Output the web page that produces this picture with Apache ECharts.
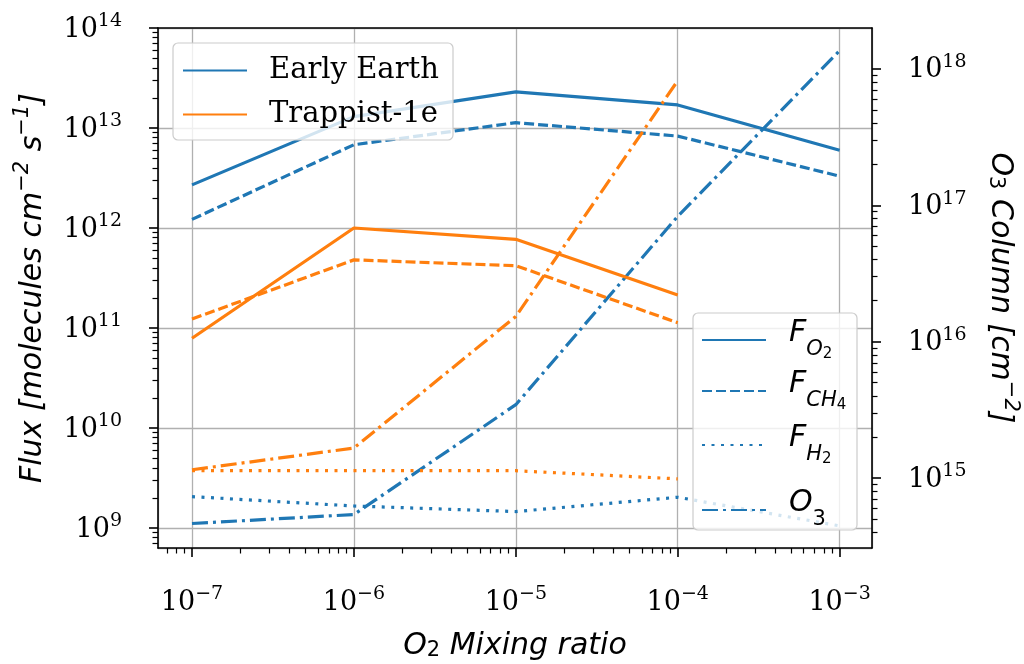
<!DOCTYPE html>
<html><head><meta charset="utf-8">
<script src="https://cdn.jsdelivr.net/npm/echarts@6/dist/echarts.min.js"></script>
<style>html,body{margin:0;padding:0;background:#fff}#c{width:1024px;height:664px}</style>
</head><body><div id="c"></div>
<script>
// ---- data ----
const mixingRatio = [1e-7, 1e-6, 1e-5, 1e-4, 1e-3];
const earthFO2   = [2.7e12, 1.3e13, 2.3e13, 1.7e13, 6.0e12];
const earthFCH4  = [1.22e12, 6.8e12, 1.13e13, 8.3e12, 3.3e12];
const earthFH2   = [2.06e9, 1.66e9, 1.46e9, 2.03e9, 1.05e9];
const earthO3    = [4.64e14, 5.4e14, 3.45e15, 8.3e16, 1.36e18];
const trappistFO2  = [7.9e10, 1.0e12, 7.7e11, 2.14e11];
const trappistFCH4 = [1.23e11, 4.8e11, 4.2e11, 1.13e11];
const trappistFH2  = [3.74e9, 3.74e9, 3.74e9, 3.1e9];
const trappistO3   = [1.15e15, 1.66e15, 1.53e16, 8.2e17];
const planetNames = ['Early Earth', 'Trappist-1e'];
const speciesNames = ['FO2', 'FCH4', 'FH2', 'O3'];

// ---- axis extents (log10) ----
const X_LOG = [-7.21, -2.8];
const YL_LOG = [8.8, 14];
const YR_LOG = [14.487, 18.3];

const BLUE = '#1f77b4', ORANGE = '#ff7f0e';
const DASH = [10, 4], DOT = [3, 6.5], DASHDOT = [16, 5, 3, 5];
const LW = 3.2;

function pairs(xs, ys) { return ys.map((y, i) => [xs[i], y]); }
function majors(ext) { const r = []; for (let e = Math.ceil(ext[0]); e <= Math.floor(ext[1]); e++) r.push(e); return r; }
function minors(ext) {
  const r = [];
  for (let e = Math.floor(ext[0]); e <= Math.ceil(ext[1]); e++)
    for (let m = 2; m <= 9; m++) { const v = e + Math.log10(m); if (v > ext[0] && v < ext[1]) r.push(v); }
  return r;
}
const sup = e => (e < 0 ? '\u2212' + (-e) : '' + e);
function logLabel(v) {
  const e = Math.log10(v), r = Math.round(e);
  if (Math.abs(e - r) > 1e-6) return '';
  return '{b|10}{s|' + sup(r) + '}';
}
const tickRich = {
  b: { fontFamily: 'DejaVu Serif', fontSize: 27, lineHeight: 30, verticalAlign: 'bottom', color: '#000' },
  s: { fontFamily: 'DejaVu Serif', fontSize: 19, lineHeight: 20, padding: [0, 0, 12, 0], verticalAlign: 'bottom', color: '#000' }
};
const nameRich = {
  t: { fontFamily: 'DejaVu Sans', fontStyle: 'italic', fontSize: 30, lineHeight: 36, verticalAlign: 'bottom', color: '#000' },
  s: { fontFamily: 'DejaVu Sans', fontStyle: 'italic', fontSize: 21, lineHeight: 21, padding: [0, 0, 15, 0], verticalAlign: 'bottom', color: '#000' },
  d: { fontFamily: 'DejaVu Sans', fontSize: 21, lineHeight: 21, padding: [0, 0, 0, 0], verticalAlign: 'bottom', color: '#000' }
};
const spineLine = { show: true, lineStyle: { color: '#000', width: 1.6 } };
const gridLine = { show: true, lineStyle: { color: '#b0b0b0', width: 1.3, type: 'solid' } };

function tickAxis(ext, vals, len, w, pos) {
  return {
    type: 'value', min: ext[0], max: ext[1], position: pos,
    axisLine: { show: false }, axisLabel: { show: false }, splitLine: { show: false },
    axisTick: { show: true, inside: false, length: len, customValues: vals, lineStyle: { color: '#000', width: w } }
  };
}

const chart = echarts.init(document.getElementById('c'), null, { renderer: 'canvas' });

function line(name, xs, ys, color, type, yIdx) {
  return { type: 'line', name: name, xAxisIndex: 0, yAxisIndex: yIdx, data: pairs(xs, ys),
    symbol: 'none', showSymbol: false, silent: true, animation: false, z: 3,
    itemStyle: { color: color }, lineStyle: { color: color, width: LW, type: type } };
}
function dummy(name, color, type) {
  return { type: 'line', name: name, xAxisIndex: 0, yAxisIndex: 0, data: [], symbol: 'none',
    itemStyle: { color: color }, lineStyle: { color: color, width: LW, type: type }, animation: false };
}

// legend text (rich text for sub/superscripts)
const legendSpecies = {
  FO2: '{g|}{i|F}{sb|O}{ss|2}',
  FCH4: '{g|}{i|F}{sb|CH}{ss|4}',
  FH2: '{g|}{i|F}{sb|H}{ss|2}',
  O3: '{g|}{i|O}{sd|3}'
};
const speciesRich = {
  g: { width: 18 },
  i: { fontFamily: 'DejaVu Sans', fontStyle: 'italic', fontSize: 30, lineHeight: 44, verticalAlign: 'top', color: '#000' },
  sb: { fontFamily: 'DejaVu Sans', fontStyle: 'italic', fontSize: 21, lineHeight: 22, padding: [21, 0, 0, 0], verticalAlign: 'top', color: '#000' },
  ss: { fontFamily: 'DejaVu Sans', fontSize: 15, lineHeight: 15, padding: [29, 0, 0, 0], verticalAlign: 'top', color: '#000' },
  sd: { fontFamily: 'DejaVu Sans', fontSize: 21, lineHeight: 22, padding: [21, 0, 0, 0], verticalAlign: 'top', color: '#000' }
};
const planetRich = { g: { width: 17 }, t: { fontFamily: 'DejaVu Serif', fontSize: 29, lineHeight: 34, color: '#000' } };

const planetRowTop = [56, 100];
const speciesRowTop = [318, 369, 423, 488];
const planetLegends = planetNames.map((n, k) => ({
  data: [n], orient: 'vertical', left: 182, top: planetRowTop[k], padding: 0, itemGap: 0,
  itemWidth: 64, itemHeight: 34, selectedMode: false, itemStyle: { opacity: 0 }, z: 12,
  formatter: nm => '{g|}{t|' + nm + '}', textStyle: { rich: planetRich }
}));
const speciesLegends = speciesNames.map((n, k) => ({
  data: [n], orient: 'vertical', left: 701, top: speciesRowTop[k], padding: 0, itemGap: 0,
  itemWidth: 64, itemHeight: 44, selectedMode: false, itemStyle: { opacity: 0 }, z: 12,
  formatter: nm => legendSpecies[nm], textStyle: { rich: speciesRich }
}));

const legendBoxStyle = { fill: 'rgba(255,255,255,0.8)', stroke: '#cccccc', lineWidth: 1.2 };

const option = {
  backgroundColor: '#fff',
  animation: false,
  grid: { left: 158, right: 152, top: 28, bottom: 116, show: false, containLabel: false, outerBoundsMode: 'none' },
  graphic: { elements: [
    { type: 'rect', z: 11, silent: true, shape: { x: 173, y: 43, width: 280, height: 97, r: 5 }, style: legendBoxStyle },
    { type: 'rect', z: 11, silent: true, shape: { x: 693, y: 313, width: 164, height: 217, r: 5 }, style: legendBoxStyle }
  ] },
  xAxis: [
    { type: 'log', logBase: 10, min: Math.pow(10, X_LOG[0]), max: Math.pow(10, X_LOG[1]), position: 'bottom',
      axisLine: spineLine, axisTick: { show: false }, splitLine: gridLine, minorTick: { show: false },
      axisLabel: { formatter: logLabel, rich: tickRich, margin: 38, showMinLabel: false, showMaxLabel: false },
      name: '{t|O}{d|2}{t| Mixing ratio}', nameLocation: 'middle', nameGap: 77,
      nameTextStyle: { rich: nameRich } },
    tickAxis(X_LOG, majors(X_LOG), 9, 1.6, 'bottom'),
    tickAxis(X_LOG, minors(X_LOG), 5.5, 1.2, 'bottom'),
    { type: 'value', min: 0, max: 1, position: 'top', axisLine: spineLine, axisTick: { show: false },
      axisLabel: { show: false }, splitLine: { show: false } }
  ],
  yAxis: [
    { type: 'log', logBase: 10, min: Math.pow(10, YL_LOG[0]), max: Math.pow(10, YL_LOG[1]), position: 'left',
      axisLine: spineLine, axisTick: { show: false }, splitLine: gridLine,
      axisLabel: { formatter: logLabel, rich: tickRich, margin: 36, showMinLabel: false, showMaxLabel: true },
      name: '{t|Flux [molecules cm}{s|\u22122}{t| s}{s|\u22121}{t|]}', nameLocation: 'middle', nameGap: 110, nameRotate: 90,
      nameTextStyle: { rich: nameRich } },
    { type: 'log', logBase: 10, min: Math.pow(10, YR_LOG[0]), max: Math.pow(10, YR_LOG[1]), position: 'right',
      axisLine: spineLine, axisTick: { show: false }, splitLine: { show: false },
      axisLabel: { formatter: logLabel, rich: tickRich, margin: 36, showMinLabel: false, showMaxLabel: false },
      name: '{t|O}{d|3}{t| Column [cm}{s|\u22122}{t|]}', nameLocation: 'middle', nameGap: 113, nameRotate: -90,
      nameTextStyle: { rich: nameRich } },
    tickAxis(YL_LOG, majors(YL_LOG), 9, 1.6, 'left'),
    tickAxis(YL_LOG, minors(YL_LOG), 5.5, 1.2, 'left'),
    tickAxis(YR_LOG, majors(YR_LOG), 9, 1.6, 'right'),
    tickAxis(YR_LOG, minors(YR_LOG), 5.5, 1.2, 'right')
  ],
  legend: planetLegends.concat(speciesLegends),
  series: [
    line('ee_fo2', mixingRatio, earthFO2, BLUE, 'solid', 0),
    line('ee_fch4', mixingRatio, earthFCH4, BLUE, DASH, 0),
    line('ee_fh2', mixingRatio, earthFH2, BLUE, DOT, 0),
    line('ee_o3', mixingRatio, earthO3, BLUE, DASHDOT, 1),
    line('tr_fo2', mixingRatio, trappistFO2, ORANGE, 'solid', 0),
    line('tr_fch4', mixingRatio, trappistFCH4, ORANGE, DASH, 0),
    line('tr_fh2', mixingRatio, trappistFH2, ORANGE, DOT, 0),
    line('tr_o3', mixingRatio, trappistO3, ORANGE, DASHDOT, 1),
    dummy('Early Earth', BLUE, 'solid'),
    dummy('Trappist-1e', ORANGE, 'solid'),
    dummy('FO2', BLUE, 'solid'),
    dummy('FCH4', BLUE, DASH),
    dummy('FH2', BLUE, DOT),
    dummy('O3', BLUE, DASHDOT)
  ]
};
chart.setOption(option);
</script>
</body></html>
